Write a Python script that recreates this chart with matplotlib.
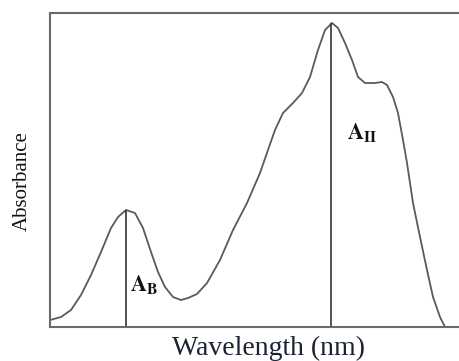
import matplotlib.pyplot as plt

plt.rcParams['mathtext.fontset'] = 'stix'

# spectrum (arbitrary units)
wavelength = [0, 11, 21, 31, 41, 51, 61, 68, 76, 85, 93, 101, 108, 115, 123,
              131, 138, 147, 157, 170, 183, 197, 210, 218, 225, 233, 243, 252,
              260, 268, 275, 282, 288, 295, 302, 308, 315, 325, 332, 337, 343,
              348, 353, 357, 363, 370, 377, 383, 390, 395]
absorbance = [7, 10, 17, 32, 52, 75, 99, 110, 117, 114, 99, 75, 55, 40, 30,
              27, 29, 33, 44, 67, 97, 124, 154, 177, 197, 214, 224, 234,
              250, 277, 297, 304, 299, 284, 267, 250, 244, 244, 245, 242, 230,
              214, 187, 164, 124, 90, 57, 30, 10, 0]

# band maxima marked with vertical lines
peak_pos = [76, 281]
peak_height = [117, 304]
peak_names = [r'$\mathbf{A_B}$', r'$\mathbf{A_{II}}$']
label_pos = [(80, 30), (297, 182)]

fig = plt.figure(figsize=(4.6, 3.61), dpi=100)
ax = fig.add_axes([50/460, 34/361, 412/460, 314/361])

ax.plot(wavelength, absorbance, color='#5a5a5a', lw=1.3,
        solid_joinstyle='round', antialiased=True)
ax.vlines(peak_pos, 0, peak_height, color='#333333', lw=1.2)
for name, (lx, ly) in zip(peak_names, label_pos):
    ax.text(lx, ly, name, fontsize=16, ha='left', va='bottom', color='#111111')

ax.set_xlim(0, 412)
ax.set_ylim(0, 314)
ax.set_xticks([])
ax.set_yticks([])
for s in ax.spines.values():
    s.set_color('#6a6a6a')
    s.set_linewidth(1.5)

fig.text(22/460, 1 - 181/361, 'Absorbance', rotation=90, ha='center', va='center',
         family='Liberation Serif', fontsize=15, color='#111111')
fig.text(269/460, 1 - 355/361, 'Wavelength (nm)', ha='center', va='baseline',
         family='Liberation Serif', fontsize=20, color='#1a2233')

fig.savefig('out.png', dpi=100)
